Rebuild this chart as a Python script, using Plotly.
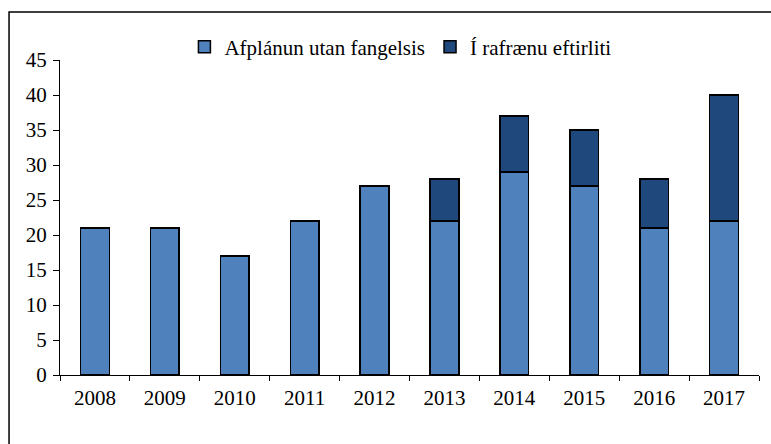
import plotly.graph_objects as go

years = ["2008", "2009", "2010", "2011", "2012", "2013", "2014", "2015", "2016", "2017"]
afplanun = [21, 21, 17, 22, 27, 22, 29, 27, 21, 22]
rafraent = [0, 0, 0, 0, 0, 6, 8, 8, 7, 18]
series_names = ["Afplánun utan fangelsis", "Í rafrænu eftirliti"]
y_ticks = [0, 5, 10, 15, 20, 25, 30, 35, 40, 45]

FONT = "Liberation Serif"
FS = 21

fig = go.Figure()
fig.add_trace(go.Bar(
    x=years, y=afplanun, name=series_names[0],
    marker=dict(color="#4F81BD", line=dict(color="black", width=1.5)),
    width=0.41,
))
fig.add_trace(go.Bar(
    x=years, y=rafraent, name=series_names[1],
    marker=dict(color="#1F497D", line=dict(color="black", width=1.5)),
    width=0.41,
))

fig.update_layout(
    barmode="stack",
    width=771, height=444,
    margin=dict(l=60, r=12, t=60, b=69),
    paper_bgcolor="white", plot_bgcolor="white",
    font=dict(family=FONT, size=FS, color="black"),
    showlegend=True,
    legend=dict(orientation="h", x=0.487, xanchor="center", y=1.041, yanchor="middle",
                traceorder="normal",
                font=dict(family=FONT, size=FS), itemwidth=30, tracegroupgap=0,
                bgcolor="rgba(0,0,0,0)"),
    xaxis=dict(type="category", showline=True, linecolor="black", linewidth=1.2,
               ticks="outside", ticklen=5, tickcolor="black", tickson="boundaries",
               showgrid=False, tickfont=dict(family=FONT, size=FS), ticklabelstandoff=4),
    yaxis=dict(range=[0, 45], tickvals=y_ticks, showline=True, linecolor="black", linewidth=1.2,
               ticks="outside", ticklen=6, tickcolor="black", showgrid=False, zeroline=False,
               tickfont=dict(family=FONT, size=FS), ticklabelstandoff=2),
)

fig.add_shape(type="rect", xref="paper", yref="paper",
              x0=-0.0729, x1=1.2, y0=-0.5, y1=1.1524,
              line=dict(color="black", width=1.5), fillcolor="rgba(0,0,0,0)", layer="above")

fig.write_html("out.html", config={"displayModeBar": False},
               post_script="document.body.style.margin='0';document.body.style.overflow='hidden';")
